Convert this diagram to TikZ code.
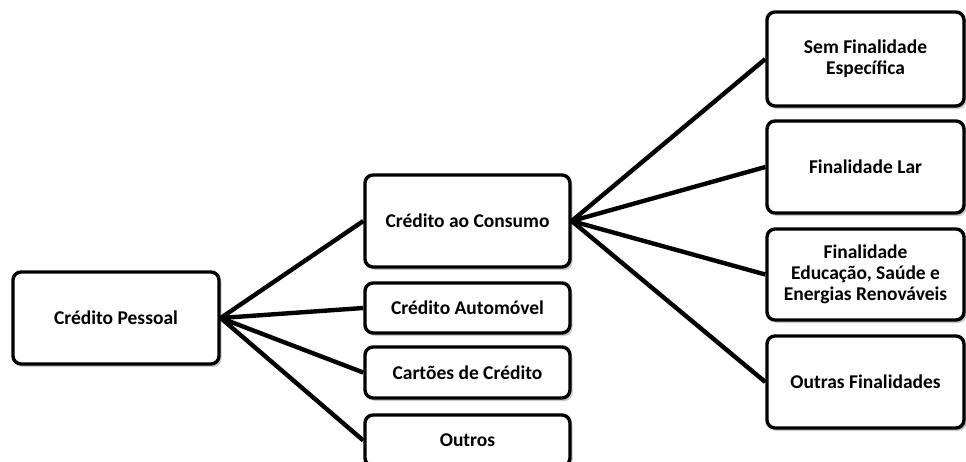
\documentclass[tikz,border=0pt]{standalone}
\usepackage{fontspec}
\setmainfont{Carlito}
\usetikzlibrary{shadows}
\begin{document}
\begin{tikzpicture}[x=1pt,y=-1pt,
  box/.style={draw=black, line width=3.4pt, rounded corners=8pt, fill=white,
    inner sep=0pt, align=center,
    font=\fontsize{19.5}{21}\selectfont\bfseries,
    drop shadow={shadow xshift=2.5pt, shadow yshift=-3pt, opacity=0.35, fill=black!60}},
  link/.style={line width=4.4pt, draw=black}]
\useasboundingbox (0,0) rectangle (966,461);
\clip (0,0) rectangle (966,461);
% nodes
\node[box, minimum width=206pt, minimum height=92pt] (P) at (116,318) {Crédito Pessoal};
\node[box, minimum width=205pt, minimum height=92pt] (C) at (467.5,221) {Crédito ao Consumo};
\node[box, minimum width=205pt, minimum height=50pt] (A) at (467.5,308) {Crédito Automóvel};
\node[box, minimum width=205pt, minimum height=51pt] (K) at (467.5,372.5) {Cartões de Crédito};
\node[box, minimum width=205pt, minimum height=51pt] (O) at (467.5,440.5) {Outros};
\node[box, minimum width=197pt, minimum height=94pt] (S) at (865.5,59) {Sem Finalidade\\Específica};
\node[box, minimum width=197pt, minimum height=92pt] (L) at (865.5,167) {Finalidade Lar};
\node[box, minimum width=197pt, minimum height=91pt] (E) at (865.5,274.5) {Finalidade\\Educação, Saúde e\\Energias Renováveis};
\node[box, minimum width=197pt, minimum height=92pt] (R) at (865.5,382) {Outras Finalidades};
% connectors
\draw[link] (P.east) -- (C.west);
\draw[link] (P.east) -- (A.west);
\draw[link] (P.east) -- (K.west);
\draw[link] (P.east) -- (O.west);
\draw[link] (C.east) -- (S.west);
\draw[link] (C.east) -- (L.west);
\draw[link] (C.east) -- (E.west);
\draw[link] (C.east) -- (R.west);
\end{tikzpicture}
\end{document}
